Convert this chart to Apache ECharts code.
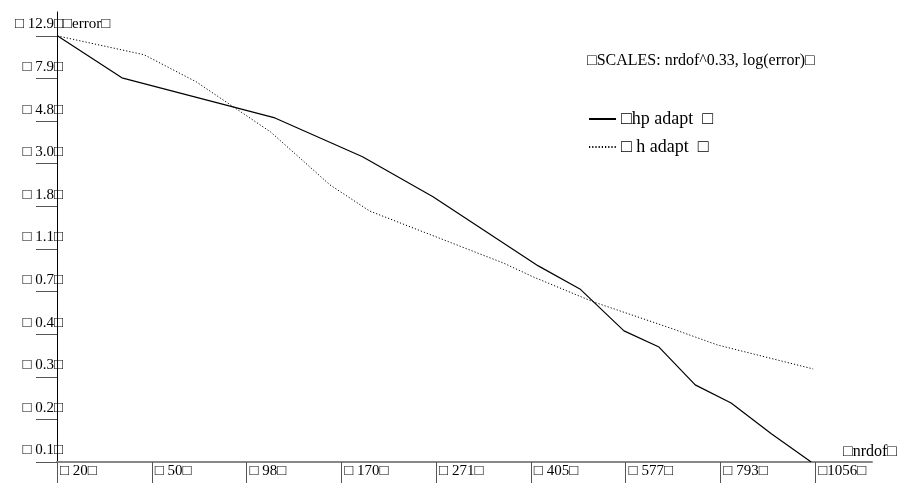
<!DOCTYPE html>
<html>
<head>
<meta charset="utf-8">
<script src="https://cdn.jsdelivr.net/npm/echarts@6/dist/echarts.min.js"></script>
<style>
    html, body { margin: 0; padding: 0; background: #fff; }
    #chart { width: 902px; height: 483px; }
</style>
</head>
<body>
<div id="chart"></div>
<script>
// tick labels as printed on the axes
var xTickLabels = [' 20', ' 50', ' 98', ' 170', ' 271', ' 405', ' 577', ' 793', '1056'];
var yTickLabels = ['0.1', '0.2', '0.3', '0.4', '0.7', '1.1', '1.8', '3.0', '4.8', '7.9', '12.9'];

// hp adapt (solid)
var hpNrdof = [21, 39, 117, 190, 267, 417, 489, 574, 648, 731, 820, 928, 1044];
var hpError = [12.9, 7.99, 5.06, 3.25, 2.06, 0.936, 0.720, 0.446, 0.371, 0.241, 0.196, 0.138, 0.100];

// h adapt (dotted)
var hNrdof = [21, 47, 70, 114, 160, 197, 244, 362, 409, 514, 673, 785, 1050];
var hError = [12.9, 10.4, 7.63, 4.31, 2.36, 1.75, 1.44, 0.968, 0.825, 0.621, 0.461, 0.380, 0.289];

// scales: nrdof^(1/3) and log(error), expressed in tick steps
var DX = (Math.cbrt(1056) - Math.cbrt(50)) / 7;
var X0 = Math.cbrt(50) - DX;
var Y0 = Math.log10(0.1);
var DY = (Math.log10(12.9) - Y0) / 10;

function toPoints(nrdof, err) {
    return nrdof.map(function (n, i) {
        return [(Math.cbrt(n) - X0) / DX, (Math.log10(err[i]) - Y0) / DY];
    });
}

var BOX = '\u25A1';
var xIdx = xTickLabels.map(function (v, i) { return i; });
var yIdx = yTickLabels.map(function (v, i) { return i; });
var font = 'Liberation Serif';
var hpName = BOX + 'hp adapt  ' + BOX;
var hName = BOX + ' h adapt  ' + BOX;

var chart = echarts.init(document.getElementById('chart'));
var option = {
    backgroundColor: '#fff',
    animation: false,
    title: {
        text: BOX + 'SCALES: nrdof^0.33, log(error)' + BOX,
        left: 582,
        top: 48,
        textStyle: {fontFamily: font, fontSize: 16, fontWeight: 'normal', color: '#000'}
    },
    legend: {
        orient: 'vertical',
        left: 588,
        top: 109,
        padding: 0,
        itemWidth: 27,
        itemHeight: 20,
        itemGap: 8,
        itemStyle: {color: 'rgba(0,0,0,0)', borderWidth: 0},
        textStyle: {fontFamily: font, fontSize: 18, lineHeight: 20, color: '#000'},
        data: [hpName, hName]
    },
    grid: {left: 57, right: 30, top: 12, bottom: 21},
    xAxis: {
        type: 'value',
        min: 0,
        max: 8.6,
        name: BOX + 'nrdof' + BOX,
        nameLocation: 'end',
        nameGap: -29,
        nameMoveOverlap: false,
        nameTextStyle: {fontFamily: font, fontSize: 16, color: '#000', align: 'left', verticalAlign: 'bottom', padding: [0, 0, 2, 0]},
        splitLine: {show: false},
        axisLine: {onZero: false, lineStyle: {color: '#888', width: 2}},
        axisTick: {show: true, inside: false, length: 21, customValues: xIdx, lineStyle: {color: '#555', width: 1}},
        axisLabel: {
            customValues: xIdx,
            margin: 2,
            align: 'left',
            verticalAlign: 'top',
            padding: [0, 0, 0, 3],
            fontFamily: font,
            fontSize: 15,
            color: '#000',
            formatter: function (v) { return BOX + xTickLabels[Math.round(v)] + BOX; }
        }
    },
    yAxis: {
        type: 'value',
        min: 0,
        max: 10.56,
        name: BOX + 'error' + BOX,
        nameLocation: 'end',
        nameGap: -12,
        nameMoveOverlap: false,
        nameTextStyle: {fontFamily: font, fontSize: 15, color: '#000', align: 'left', verticalAlign: 'middle', padding: [0, 0, 0, 6]},
        splitLine: {show: false},
        axisLine: {onZero: false, lineStyle: {color: '#000', width: 1}},
        axisTick: {show: true, inside: false, length: 21, customValues: yIdx, lineStyle: {color: '#555', width: 1}},
        axisLabel: {
            customValues: yIdx,
            margin: -6,
            align: 'right',
            verticalAlign: 'bottom',
            padding: [0, 0, 4, 0],
            fontFamily: font,
            fontSize: 15,
            color: '#000',
            formatter: function (v) { return BOX + ' ' + yTickLabels[Math.round(v)] + BOX; }
        }
    },
    series: [
        {
            name: hpName,
            type: 'line',
            symbol: 'none',
            lineStyle: {color: '#000', width: 1.2},
            itemStyle: {color: '#000'},
            data: toPoints(hpNrdof, hpError)
        },
        {
            name: hName,
            type: 'line',
            symbol: 'none',
            lineStyle: {color: '#000', width: 1, type: [1.2, 2]},
            itemStyle: {color: '#000'},
            data: toPoints(hNrdof, hError)
        }
    ]
};
chart.setOption(option);
</script>
</body>
</html>
